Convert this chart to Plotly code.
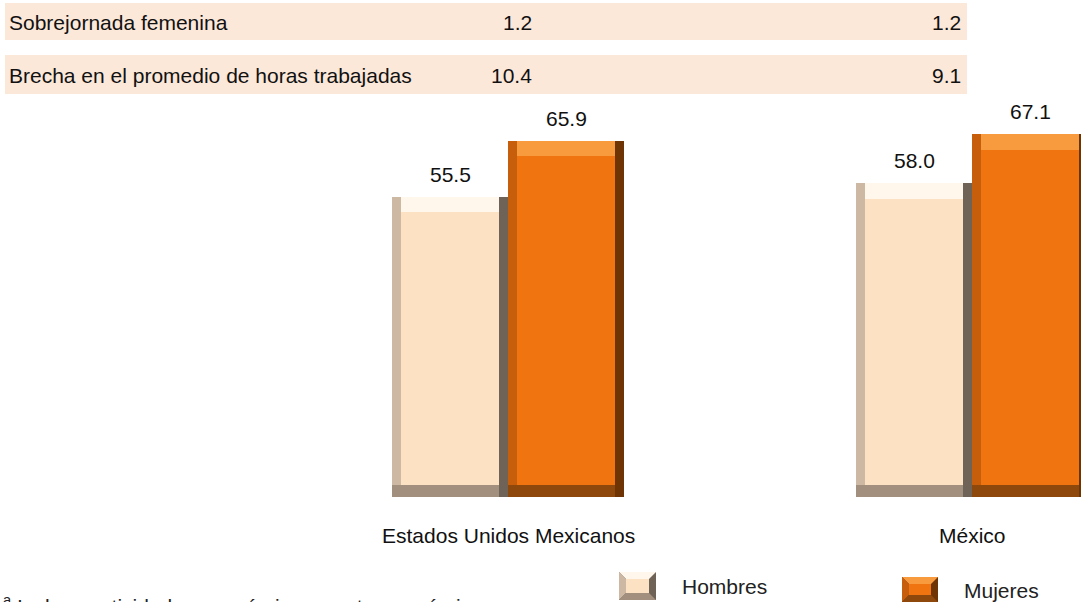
import plotly.graph_objects as go

# ---------------- data ----------------
categories = ["Estados Unidos Mexicanos", "México"]
hombres = [55.5, 58.0]
mujeres = [65.9, 67.1]
row_labels = ["Sobrejornada femenina", "Brecha en el promedio de horas trabajadas"]
sobrejornada = [1.2, 1.2]
brecha = [10.4, 9.1]
series_names = ["Hombres", "Mujeres"]
footnote = "Incluye actividades económicas y extraeconómicas"

# ---------------- style ----------------
W, H = 1081, 602
FONT = "Liberation Sans, Arial, sans-serif"
FS = 21
BAR_W = 0.248
OFF = 0.125
IX = 0.018    # bevel width in x units
IY = 2.2      # bevel height in y units

styles = {
    "Hombres": dict(fill="#FDE1C3", dark="#6F6358", side="#CDB8A4", top="#FFF7EC", bottom="#A38F7D"),
    "Mujeres": dict(fill="#F07410", dark="#6E3404", side="#C75E0C", top="#F89A3E", bottom="#8E480B"),
}

fig = go.Figure()

def add_bevel_bars(xc, vals, st):
    n = len(vals)
    fig.add_trace(go.Bar(x=xc, y=vals, base=[0] * n, width=[BAR_W] * n,
                         marker=dict(color=st["dark"], line=dict(width=0)),
                         hoverinfo="skip", showlegend=False))
    fig.add_trace(go.Bar(x=[c - IX * 0.5 for c in xc], y=[IY] * n, base=[0] * n,
                         width=[BAR_W - IX] * n,
                         marker=dict(color=st["bottom"], line=dict(width=0)),
                         hoverinfo="skip", showlegend=False))
    fig.add_trace(go.Bar(x=[c - IX * 0.5 for c in xc], y=[v - IY for v in vals], base=[IY] * n,
                         width=[BAR_W - IX] * n,
                         marker=dict(color=st["side"], line=dict(width=0)),
                         hoverinfo="skip", showlegend=False))
    fig.add_trace(go.Bar(x=xc, y=[IY * 1.3] * n, base=[v - IY * 1.3 for v in vals],
                         width=[BAR_W - 2 * IX] * n,
                         marker=dict(color=st["top"], line=dict(width=0)),
                         hoverinfo="skip", showlegend=False))
    fig.add_trace(go.Bar(x=xc, y=[v - IY - IY * 1.3 for v in vals], base=[IY] * n,
                         width=[BAR_W - 2 * IX] * n,
                         marker=dict(color=st["fill"], line=dict(width=0)),
                         hoverinfo="skip", showlegend=False))

xh = [i - OFF for i in range(len(categories))]
xm = [i + OFF for i in range(len(categories))]
add_bevel_bars(xh, hombres, styles["Hombres"])
add_bevel_bars(xm, mujeres, styles["Mujeres"])

# value labels
for xs, vals in ((xh, hombres), (xm, mujeres)):
    for x, v in zip(xs, vals):
        fig.add_annotation(x=x, y=v, xref="x", yref="y", text=f"{v:.1f}",
                           showarrow=False, yanchor="bottom", yshift=9,
                           font=dict(family=FONT, size=FS, color="#111111"))

# category labels
for i, c in enumerate(categories):
    fig.add_annotation(x=i, y=0, xref="x", yref="y", text=c, showarrow=False,
                       yanchor="middle", yshift=-38,
                       font=dict(family=FONT, size=FS, color="#111111"))

def px(x):
    return x / W

def py(y):
    return 1 - y / H

# summary table rows
rows = [(row_labels[0], sobrejornada, 3, 40), (row_labels[1], brecha, 55, 94)]
for label, vals, y0, y1 in rows:
    fig.add_shape(type="rect", xref="paper", yref="paper",
                  x0=px(5), x1=px(967), y0=py(y1), y1=py(y0),
                  fillcolor="#FCE8D9", line=dict(width=0), layer="below")
    yc = py((y0 + y1) / 2 + 1.5)
    fig.add_annotation(x=px(7), y=yc, xref="paper", yref="paper", text=label,
                       showarrow=False, xanchor="left", yanchor="middle",
                       font=dict(family=FONT, size=FS, color="#111111"))
    for xr, v in zip((534, 963), vals):
        fig.add_annotation(x=px(xr), y=yc, xref="paper", yref="paper", text=f"{v:.1f}",
                           showarrow=False, xanchor="right", yanchor="middle",
                           font=dict(family=FONT, size=FS, color="#111111"))

# legend (custom bevelled keys)
def bevel_key(x0, y0, x1, y1, st, b=7):
    def path(pts):
        return "M " + " L ".join(f"{px(a)},{py(c)}" for a, c in pts) + " Z"
    shapes = [
        ([(x0, y0), (x1, y0), (x1, y1), (x0, y1)], st["dark"]),
        ([(x0, y0), (x1, y0), (x1 - b, y0 + b), (x0 + b, y0 + b)], st["top"]),
        ([(x0, y0), (x0 + b, y0 + b), (x0 + b, y1 - b), (x0, y1)], st["side"]),
        ([(x0, y1), (x0 + b, y1 - b), (x1 - b, y1 - b), (x1, y1)], st["bottom"]),
        ([(x0 + b, y0 + b), (x1 - b, y0 + b), (x1 - b, y1 - b), (x0 + b, y1 - b)], st["fill"]),
    ]
    for pts, col in shapes:
        fig.add_shape(type="path", xref="paper", yref="paper", path=path(pts),
                      fillcolor=col, line=dict(width=0))

legend_pos = {"Hombres": (619, 572, 656, 600, 680, 586),
              "Mujeres": (902, 577, 938, 602, 962, 590)}
for name in series_names:
    x0, y0, x1, y1, tx, ty = legend_pos[name]
    bevel_key(x0, y0, x1, y1, styles[name])
    fig.add_annotation(x=px(tx), y=py(ty), xref="paper", yref="paper", text=name,
                       showarrow=False, xanchor="left", yanchor="middle",
                       font=dict(family=FONT, size=FS, color="#222222"))

# footnote (cut off at bottom edge, as in the source)
fig.add_annotation(x=px(1), y=py(605), xref="paper", yref="paper",
                   text="<sup>a</sup> " + footnote, showarrow=False,
                   xanchor="left", yanchor="middle",
                   font=dict(family=FONT, size=FS, color="#222222"))

x_lo = (0 - 508) / 464
x_hi = (W - 508) / 464
ppu = 300 / 55.5
y_lo = -(H - 497) / ppu
y_hi = y_lo + H / ppu

fig.update_layout(
    width=W, height=H,
    margin=dict(l=0, r=0, t=0, b=0),
    paper_bgcolor="white", plot_bgcolor="white",
    barmode="overlay", bargap=0,
    showlegend=False,
    xaxis=dict(range=[x_lo, x_hi], visible=False, fixedrange=True),
    yaxis=dict(range=[y_lo, y_hi], visible=False, fixedrange=True),
)

fig.write_html("out.html", config={"displayModeBar": False},
               post_script="document.body.style.margin='0px';")
